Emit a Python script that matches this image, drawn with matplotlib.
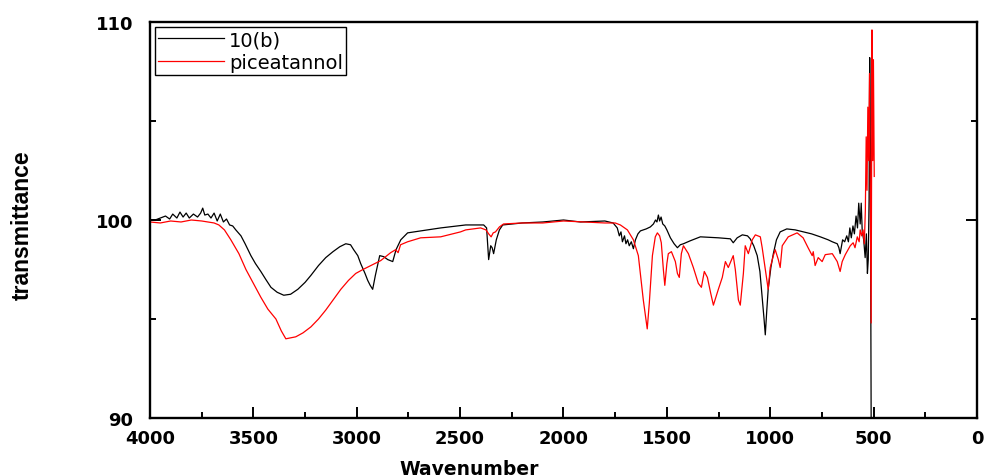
import matplotlib.pyplot as plt
from matplotlib.ticker import MultipleLocator

# 10(b) spectrum
wn_b = [4000, 3975, 3950, 3925, 3905, 3890, 3870, 3855, 3840, 3825, 3810, 3790, 3770, 3755,
        3745, 3735, 3720, 3705, 3690, 3675, 3660, 3645, 3630, 3615, 3600, 3585, 3560, 3540,
        3512, 3490, 3464, 3440, 3415, 3385, 3353, 3320, 3285, 3250, 3222, 3185, 3150, 3115,
        3082, 3053, 3030, 3015, 2995, 2981, 2960, 2947, 2935, 2923, 2910, 2889, 2870, 2850,
        2826, 2810, 2787, 2754, 2691, 2594, 2473, 2386, 2372, 2362, 2352, 2345, 2338, 2325,
        2310, 2294, 2200, 2100, 2000, 1918, 1800, 1760, 1740, 1730, 1722, 1715, 1705, 1698,
        1690, 1682, 1672, 1662, 1652, 1640, 1628, 1600, 1580, 1565, 1555, 1548, 1541, 1535,
        1528, 1520, 1510, 1500, 1483, 1465, 1449, 1435, 1420, 1387, 1338, 1250, 1193, 1179,
        1160, 1135, 1110, 1097, 1080, 1063, 1050, 1039, 1030, 1024, 1017, 1010, 997, 985,
        970, 952, 920, 879, 800, 758, 720, 700, 676, 668, 662, 655, 650, 640, 630, 622, 615,
        608, 600, 593, 585, 578, 572, 565, 560, 555, 548, 541, 535, 530, 526, 522, 519, 516,
        512, 508]
t_b = [100.0, 100.0, 100.1, 100.2, 100.05, 100.3, 100.1, 100.4, 100.15, 100.35, 100.1, 100.3,
       100.15, 100.35, 100.6, 100.25, 100.3, 100.1, 100.35, 99.95, 100.3, 99.9, 100.05, 99.75,
       99.7, 99.5, 99.2, 98.8, 98.2, 97.8, 97.4, 97.0, 96.6, 96.35, 96.2, 96.25, 96.5, 96.85,
       97.2, 97.7, 98.1, 98.4, 98.65, 98.8, 98.75, 98.5, 98.2, 97.8, 97.3, 96.95, 96.7, 96.5,
       97.2, 98.2, 98.15, 98.0, 97.9, 98.5, 99.0, 99.35, 99.45, 99.6, 99.75, 99.75, 99.6, 98.0,
       98.7, 98.6, 98.3, 99.0, 99.5, 99.75, 99.85, 99.9, 100.0, 99.9, 99.95, 99.85, 99.6, 99.2,
       99.4, 98.9, 99.2, 98.8, 99.0, 98.7, 98.9, 98.55, 99.0, 99.3, 99.45, 99.55, 99.65, 99.8,
       100.0, 99.9, 100.25, 99.95, 100.15, 99.8, 99.7, 99.5, 99.1, 98.8, 98.6, 98.75, 98.8,
       98.95, 99.15, 99.1, 99.05, 98.85, 99.1, 99.25, 99.2, 99.05, 98.7, 98.2, 97.4, 96.1,
       95.0, 94.2, 95.4, 96.5, 97.6, 98.3, 99.0, 99.4, 99.55, 99.5, 99.3, 99.15, 99.0, 98.9,
       98.8, 98.6, 98.3, 98.7, 99.0, 98.9, 99.2, 98.9, 99.6, 99.1, 99.7, 99.3, 100.2, 99.6,
       100.85, 99.8, 100.85, 99.4, 99.0, 98.1, 99.3, 97.3, 98.0, 101.0, 108.2, 104.0, 90.0,
       90.0]

# piceatannol spectrum
wn_p = [4000, 3950, 3900, 3850, 3800, 3750, 3720, 3690, 3667, 3640, 3609, 3570, 3536, 3500,
        3464, 3430, 3391, 3365, 3343, 3320, 3295, 3260, 3222, 3185, 3150, 3115, 3077, 3040,
        3005, 2970, 2932, 2884, 2836, 2812, 2800, 2788, 2754, 2691, 2594, 2498, 2473, 2401,
        2375, 2362, 2350, 2340, 2329, 2310, 2290, 2200, 2100, 2000, 1900, 1800, 1750, 1725,
        1691, 1662, 1638, 1614, 1595, 1585, 1570, 1556, 1546, 1535, 1527, 1517, 1510, 1500,
        1493, 1478, 1459, 1449, 1440, 1430, 1420, 1396, 1372, 1348, 1333, 1319, 1304, 1288,
        1275, 1251, 1232, 1217, 1203, 1179, 1169, 1154, 1145, 1130, 1121, 1106, 1087, 1072,
        1048, 1039, 1024, 1010, 1000, 985, 976, 961, 952, 942, 913, 870, 841, 817, 797, 792,
        783, 768, 749, 734, 700, 676, 662, 652, 637, 613, 599, 590, 579, 570, 565, 558, 551,
        545, 540, 536, 532, 528, 524, 520, 516, 512, 508, 504, 501, 497]
t_p = [99.9, 99.85, 99.95, 99.9, 100.0, 99.95, 99.9, 99.85, 99.75, 99.5, 99.0, 98.3, 97.5,
       96.8, 96.1, 95.5, 95.0, 94.4, 94.0, 94.05, 94.1, 94.3, 94.6, 95.0, 95.45, 95.95, 96.5,
       96.95, 97.3, 97.5, 97.7, 97.95, 98.35, 98.5, 98.35, 98.75, 98.9, 99.1, 99.15, 99.4,
       99.5, 99.6, 99.5, 99.3, 99.15, 99.35, 99.4, 99.65, 99.8, 99.85, 99.85, 99.95, 99.9,
       99.85, 99.85, 99.75, 99.5, 99.0, 98.2, 95.96, 94.5, 95.8, 98.2, 99.15, 99.35, 99.2,
       98.85, 97.5, 96.7, 97.8, 98.3, 98.4, 97.9, 97.3, 97.1, 98.3, 98.7, 98.3, 97.6, 96.8,
       96.6, 97.4, 97.1, 96.3, 95.7, 96.5, 97.1, 97.9, 97.6, 98.2, 97.5, 95.96, 95.7, 97.3,
       98.7, 98.3, 99.0, 99.25, 99.15, 98.6, 97.5, 96.5, 97.6, 98.2, 98.5, 98.0, 97.6, 98.7,
       99.15, 99.35, 99.1, 98.6, 98.2, 98.4, 97.7, 98.1, 97.9, 98.25, 98.3, 97.9, 97.4, 97.9,
       98.25, 98.7, 98.85, 98.6, 99.15, 98.9, 99.5, 99.2, 99.5, 98.8, 100.5, 104.2, 101.5,
       105.7, 103.0, 107.4, 101.0, 94.8, 109.6, 103.0, 108.1, 102.2]

fig = plt.figure(figsize=(9.87, 4.77), dpi=100)
ax = fig.add_axes([150/987, 1 - 419/477, 827/987, 396/477])

ax.plot(wn_b, t_b, color="black", lw=0.9, label="10(b)")
ax.plot(wn_p, t_p, color="red", lw=0.9, label="piceatannol")

ax.set_xlim(4000, 0)
ax.set_ylim(90, 110)
ax.xaxis.set_major_locator(MultipleLocator(500))
ax.xaxis.set_minor_locator(MultipleLocator(250))
ax.yaxis.set_major_locator(MultipleLocator(10))
ax.yaxis.set_minor_locator(MultipleLocator(5))
ax.tick_params(which="both", direction="in", top=False, right=True, width=1.4)
ax.tick_params(which="major", length=8)
ax.tick_params(which="minor", length=4.5)
ax.tick_params(axis="x", pad=8)
ax.tick_params(axis="y", pad=12)
for lab in ax.get_xticklabels() + ax.get_yticklabels():
    lab.set_fontfamily("DejaVu Sans")
    lab.set_fontweight("bold")
    lab.set_fontsize(13)
for sp in ax.spines.values():
    sp.set_linewidth(1.7)

ax.set_xlabel("Wavenumber", fontsize=13.5, fontweight="bold", family="DejaVu Sans")
ax.xaxis.set_label_coords(0.386, -0.103)
ax.set_ylabel("transmittance", fontsize=16.5, fontweight="bold", family="Liberation Sans")
ax.yaxis.set_label_coords(-0.14, 0.49)

leg = ax.legend(loc="upper left", bbox_to_anchor=(0.006, 0.987), borderaxespad=0,
                prop={"family": "DejaVu Sans", "size": 14}, handlelength=3.4,
                handletextpad=0.25, labelspacing=0.2, borderpad=0.15,
                fancybox=False, framealpha=1)
leg.get_frame().set_edgecolor("black")
leg.get_frame().set_linewidth(1.0)

fig.savefig("out.png", dpi=100)
